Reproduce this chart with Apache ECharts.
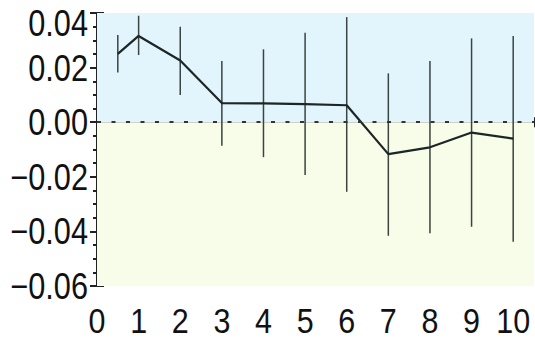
<!DOCTYPE html>
<html>
<head>
<meta charset="utf-8">
<script src="https://cdn.jsdelivr.net/npm/echarts@6/dist/echarts.min.js"></script>
<style>
html,body{margin:0;padding:0;background:#fff;}
#c{width:535px;height:339px;}
</style>
</head>
<body>
<div id="c"></div>
<script>
var xs = [0.5, 1, 2, 3, 4, 5, 6, 7, 8, 9, 10];
var means = [0.0250, 0.0316, 0.0226, 0.0070, 0.0069, 0.0066, 0.0062, -0.0117, -0.0092, -0.0038, -0.0060];
var lows = [0.0182, 0.0246, 0.0100, -0.0086, -0.0128, -0.0193, -0.0255, -0.0416, -0.0407, -0.0383, -0.0438];
var highs = [0.0319, 0.0390, 0.0350, 0.0224, 0.0267, 0.0328, 0.0385, 0.0179, 0.0224, 0.0307, 0.0316];
var xTicks = [0, 1, 2, 3, 4, 5, 6, 7, 8, 9, 10];
var yTicks = ['−0.06', '−0.04', '−0.02', '0.00', '0.02', '0.04'];

var FONT = '"Liberation Sans", Arial, sans-serif';
var lineData = xs.map(function (x, i) { return [x, means[i]]; });
var errData = xs.map(function (x, i) { return [x, lows[i], highs[i]]; });

function yFmt(v) {
  var idx = Math.round((v + 0.06) / 0.02);
  var s = yTicks[idx];
  return s === undefined ? '' : s;
}

var chart = echarts.init(document.getElementById('c'), null, {renderer: 'svg'});
var axisLine = {show: true, lineStyle: {color: '#222', width: 2}};
var tickStyle = {color: '#222', width: 2};
chart.setOption({
  animation: false,
  grid: {left: 97, right: 1, top: 13, bottom: 53, outerBoundsMode: 'none', containLabel: false},
  xAxis: [{
    type: 'value', min: 0, max: 10.5, interval: 1,
    axisLine: axisLine,
    axisTick: {show: true, inside: true, length: 5, lineStyle: tickStyle},
    minorTick: {show: true, splitNumber: 2, length: 3, lineStyle: tickStyle},
    splitLine: {show: false},
    axisLabel: {
      showMaxLabel: false, margin: 17, color: '#111', fontFamily: FONT, fontSize: 35, lineHeight: 35,
      formatter: function (v) { return xTicks.indexOf(v) >= 0 ? String(v) : ''; }
    }
  }, {
    type: 'value', position: 'top', min: 0, max: 10.5, interval: 1,
    axisLine: axisLine,
    axisTick: {show: true, inside: true, length: 5, lineStyle: tickStyle},
    minorTick: {show: true, splitNumber: 2, length: 3, lineStyle: tickStyle},
    splitLine: {show: false}, axisLabel: {show: false}
  }],
  yAxis: [{
    type: 'value', min: -0.06, max: 0.04, interval: 0.02,
    axisLine: axisLine,
    axisTick: {show: true, inside: true, length: 7, lineStyle: tickStyle},
    minorTick: {show: true, splitNumber: 4, length: 4, lineStyle: tickStyle},
    splitLine: {show: false},
    axisLabel: {margin: 9, color: '#111', fontFamily: FONT, fontSize: 37, formatter: yFmt}
  }, {
    type: 'value', position: 'right', min: -0.06, max: 0.04, interval: 0.02,
    axisLine: axisLine,
    axisTick: {show: true, inside: true, length: 7, lineStyle: tickStyle},
    minorTick: {show: true, splitNumber: 4, length: 4, lineStyle: tickStyle},
    splitLine: {show: false}, axisLabel: {show: false}
  }],
  series: [{
    type: 'line',
    data: lineData,
    symbol: 'none',
    z: 3,
    lineStyle: {color: '#1c2626', width: 2.2},
    markArea: {
      silent: true,
      data: [
        [{yAxis: 0, itemStyle: {color: '#e2f5fd'}}, {yAxis: 0.04}],
        [{yAxis: -0.06, itemStyle: {color: '#f8fdea'}}, {yAxis: 0}]
      ]
    },
    markLine: {
      silent: true, symbol: 'none', label: {show: false},
      lineStyle: {color: '#333', type: [4, 10.5], width: 2},
      data: [{yAxis: 0}]
    }
  }, {
    type: 'custom',
    data: errData,
    z: 2,
    renderItem: function (params, api) {
      var x = api.value(0);
      var p1 = api.coord([x, api.value(1)]);
      var p2 = api.coord([x, api.value(2)]);
      return {
        type: 'line',
        shape: {x1: p1[0], y1: p1[1], x2: p2[0], y2: p2[1]},
        style: {stroke: '#3a4440', lineWidth: 1.5}
      };
    }
  }]
});

// Narrow the label glyphs horizontally (reference uses a condensed face)
(function () {
  var svg = document.querySelector('#c svg');
  if (!svg) return;
  var texts = svg.querySelectorAll('text');
  for (var i = 0; i < texts.length; i++) {
    var t = texts[i];
    var b;
    try { b = t.getBBox(); } catch (e) { continue; }
    if (!b || !b.width) continue;
    var sr = t.getBoundingClientRect();
    var isY = sr.right < 97;
    var ax = isY ? b.x + b.width : b.x + b.width / 2;
    var sx = isY ? 0.83 : 0.87;
    var dy = (t.textContent === '0.04') ? 10 : 0;
    var tr = t.getAttribute('transform') || '';
    t.setAttribute('transform', tr + ' translate(' + ax + ' ' + dy + ') scale(' + sx + ' 1) translate(' + (-ax) + ' 0)');
  }
})();
</script>
</body>
</html>
